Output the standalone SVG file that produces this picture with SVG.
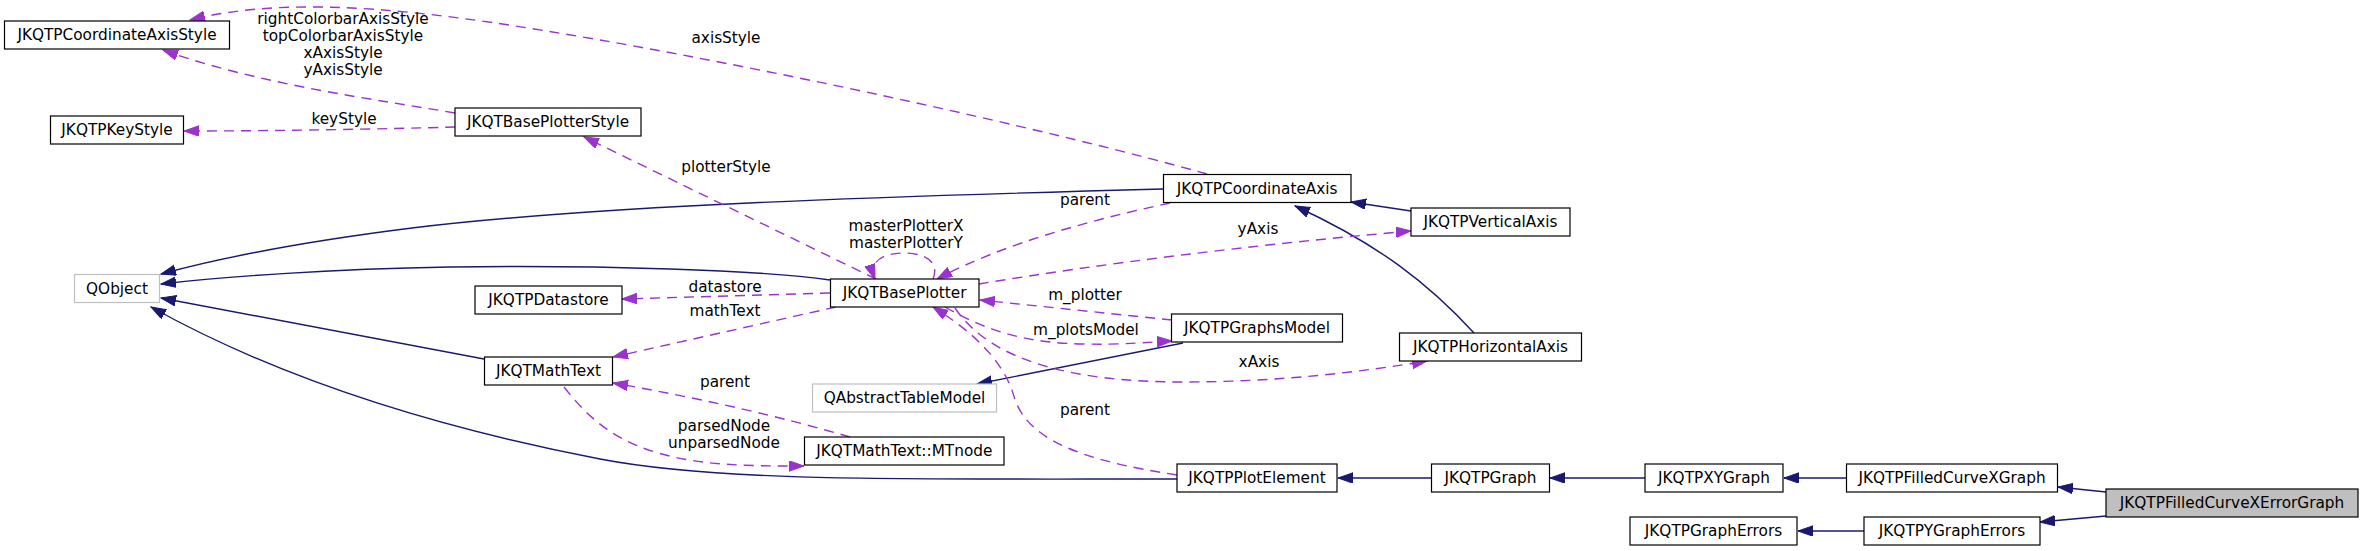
<svg xmlns="http://www.w3.org/2000/svg" width="2363" height="551" viewBox="0 0 2363 551">
<style>
text{font-family:"DejaVu Sans","Liberation Sans",sans-serif;font-size:15.3px;text-anchor:middle;fill:#000}
.node rect{fill:#fff;stroke:#000;stroke-width:1.2}
.ext rect{stroke:#bfbfbf}
.cur rect{fill:#bfbfbf}
.inh{fill:none;stroke:#191970;stroke-width:1.4;marker-end:url(#ab)}
.use{fill:none;stroke:#9a32cd;stroke-width:1.4;stroke-dasharray:10,7;marker-end:url(#ap)}
</style>
<defs>
<marker id="ab" markerUnits="userSpaceOnUse" markerWidth="16" markerHeight="12" refX="15" refY="5.25" orient="auto"><path d="M0,0 L15,5.25 L0,10.5 Z" fill="#191970" stroke="#191970" stroke-width="1"/></marker>
<marker id="ap" markerUnits="userSpaceOnUse" markerWidth="16" markerHeight="12" refX="15" refY="5.25" orient="auto"><path d="M0,0 L15,5.25 L0,10.5 Z" fill="#9a32cd" stroke="#9a32cd" stroke-width="1"/></marker>
</defs>
<rect width="2363" height="551" fill="#fff"/>
<g id="connectors">
<path class="inh" d="M1163,189 C900,196 600,205 412,228 C300,242 220,258 161,274"/>
<path class="inh" d="M830,280 C760,270 600,265 450,267 C330,269 220,277 161,284"/>
<path class="inh" d="M484,359 L161,298"/>
<path class="inh" d="M1177,479 C900,479 720,482 600,459 C470,434 300,390 151,307"/>
<path class="inh" d="M1183,343 L977,384"/>
<path class="inh" d="M1411,211 L1351,202"/>
<path class="inh" d="M1474,333 C1430,285 1380,245 1295,206"/>
<path class="inh" d="M1431,478 L1338,478"/>
<path class="inh" d="M1645,478 L1550,478"/>
<path class="inh" d="M1847,478 L1784,478"/>
<path class="inh" d="M2106,492 L2058,487"/>
<path class="inh" d="M2106,516 L2040,522"/>
<path class="inh" d="M1864,531 L1798,531"/>
<path class="use" d="M1207,174 C1050,130 800,75 600,40 C450,14 300,-8 190,20"/>
<path class="use" d="M455,113 C380,100 260,85 163,50"/>
<path class="use" d="M455,127 C380,129 280,131 184,131"/>
<path class="use" d="M876,279 L584,137"/>
<path class="use" d="M933,279 C940,262 925,253 904,253 C885,253 868,260 875,279"/>
<path class="use" d="M1170,203 C1090,220 1000,245 937,279"/>
<path class="use" d="M979,284 C1100,264 1250,245 1411,231"/>
<path class="use" d="M830,293 L622,299"/>
<path class="use" d="M836,307 L613,357"/>
<path class="use" d="M1172,320 L980,300"/>
<path class="use" d="M945,307 C990,333 1030,343 1083,344 C1120,345 1150,342 1172,341"/>
<path class="use" d="M955,308 C990,360 1070,382 1183,382 C1280,382 1360,372 1427,361"/>
<path class="use" d="M850,437 Q740,405 613,383"/>
<path class="use" d="M564,387 C590,420 615,440 655,452 C700,466 750,466 804,466"/>
<path class="use" d="M1177,475 C1080,460 1030,440 1015,400 C1005,360 970,330 933,307"/>
<text x="726" y="43">axisStyle</text>
<text x="343" y="24">rightColorbarAxisStyle</text>
<text x="343" y="41">topColorbarAxisStyle</text>
<text x="343" y="58">xAxisStyle</text>
<text x="343" y="75">yAxisStyle</text>
<text x="344" y="124">keyStyle</text>
<text x="726" y="172">plotterStyle</text>
<text x="906" y="231">masterPlotterX</text>
<text x="906" y="248">masterPlotterY</text>
<text x="1085" y="205">parent</text>
<text x="1258" y="234">yAxis</text>
<text x="725" y="292">datastore</text>
<text x="725" y="316">mathText</text>
<text x="1085" y="300">m_plotter</text>
<text x="1086" y="335">m_plotsModel</text>
<text x="1259" y="367">xAxis</text>
<text x="725" y="387">parent</text>
<text x="724" y="431">parsedNode</text>
<text x="724" y="448">unparsedNode</text>
<text x="1085" y="415">parent</text>
</g>
<g id="n_coordaxisstyle" class="node"><rect x="4.5" y="21" width="225" height="28"/><text x="117" y="40">JKQTPCoordinateAxisStyle</text></g>
<g id="n_keystyle" class="node"><rect x="50.5" y="116" width="133" height="28"/><text x="117" y="135">JKQTPKeyStyle</text></g>
<g id="n_qobject" class="node ext"><rect x="74.5" y="274.5" width="85" height="28"/><text x="117" y="293.5">QObject</text></g>
<g id="n_baseplotterstyle" class="node"><rect x="455" y="108" width="186" height="28"/><text x="548" y="127">JKQTBasePlotterStyle</text></g>
<g id="n_datastore" class="node"><rect x="475" y="286" width="147" height="28"/><text x="548.5" y="305">JKQTPDatastore</text></g>
<g id="n_mathtext" class="node"><rect x="484.5" y="357" width="128" height="28"/><text x="548.5" y="376">JKQTMathText</text></g>
<g id="n_baseplotter" class="node"><rect x="830.5" y="279" width="148.5" height="28"/><text x="904.7" y="298">JKQTBasePlotter</text></g>
<g id="n_qabstracttablemodel" class="node ext"><rect x="812.5" y="384" width="184" height="28"/><text x="904.5" y="403">QAbstractTableModel</text></g>
<g id="n_mtnode" class="node"><rect x="804.5" y="437" width="199.5" height="28"/><text x="904.3" y="456">JKQTMathText::MTnode</text></g>
<g id="n_coordaxis" class="node"><rect x="1163.5" y="174.5" width="187.5" height="28"/><text x="1257.2" y="193.5">JKQTPCoordinateAxis</text></g>
<g id="n_graphsmodel" class="node"><rect x="1171.5" y="314" width="171" height="28"/><text x="1257" y="333">JKQTPGraphsModel</text></g>
<g id="n_plotelement" class="node"><rect x="1177" y="464" width="160" height="28"/><text x="1257" y="483">JKQTPPlotElement</text></g>
<g id="n_verticalaxis" class="node"><rect x="1411" y="208" width="159" height="28"/><text x="1490.5" y="227">JKQTPVerticalAxis</text></g>
<g id="n_horizontalaxis" class="node"><rect x="1399.5" y="333" width="182" height="28"/><text x="1490.5" y="352">JKQTPHorizontalAxis</text></g>
<g id="n_graph" class="node"><rect x="1431.5" y="464" width="118" height="28"/><text x="1490.5" y="483">JKQTPGraph</text></g>
<g id="n_xygraph" class="node"><rect x="1645" y="464" width="138" height="28"/><text x="1714" y="483">JKQTPXYGraph</text></g>
<g id="n_grapherrors" class="node"><rect x="1630" y="517" width="167" height="28"/><text x="1713.5" y="536">JKQTPGraphErrors</text></g>
<g id="n_filledcurvexgraph" class="node"><rect x="1846.5" y="464" width="211" height="28"/><text x="1952" y="483">JKQTPFilledCurveXGraph</text></g>
<g id="n_ygrapherrors" class="node"><rect x="1864" y="517" width="176" height="28"/><text x="1952" y="536">JKQTPYGraphErrors</text></g>
<g id="n_filledcurvexerrorgraph" class="node cur"><rect x="2106" y="489" width="252" height="28"/><text x="2232" y="508">JKQTPFilledCurveXErrorGraph</text></g>
</svg>
